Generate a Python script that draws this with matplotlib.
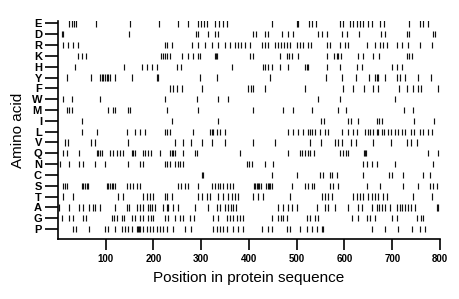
import matplotlib
matplotlib.use('Agg')
import matplotlib.pyplot as plt

# amino acids, top to bottom as in the chart
amino = ['E', 'D', 'R', 'K', 'H', 'Y', 'F', 'W', 'M', 'I',
         'L', 'V', 'Q', 'N', 'C', 'S', 'T', 'A', 'G', 'P']

# positions of each residue in the sequence
pos_E = [24, 29, 33, 37, 79, 150, 211, 251, 272, 293, 299, 305, 312, 328, 337, 345, 354,
         448, 500, 502, 525, 531, 540, 590, 596, 611, 617, 626, 632, 638, 649, 657, 674, 682,
         735, 758, 764, 775]
pos_D = [8, 10, 148, 289, 293, 314, 328, 335, 408, 414, 433, 440, 469, 481, 492, 544, 553,
         563, 595, 605, 630, 676, 685, 731, 735, 785, 789]
pos_R = [10, 20, 31, 43, 224, 228, 238, 281, 293, 307, 322, 335, 349, 360, 371, 377, 384,
         392, 403, 427, 433, 440, 454, 461, 467, 473, 479, 486, 500, 507, 513, 524, 530, 563,
         569, 590, 601, 607, 647, 664, 674, 681, 689, 710, 720, 733, 758, 783]
pos_K = [41, 50, 58, 215, 219, 224, 228, 234, 259, 272, 283, 293, 297, 328, 330, 332, 402,
         408, 465, 479, 484, 490, 503, 563, 578, 584, 586, 592, 628, 638, 659, 672, 731, 735,
         741]
pos_H = [35, 138, 175, 186, 196, 207, 249, 257, 364, 429, 433, 440, 448, 465, 482, 517, 521,
         524, 563, 590, 626, 636, 700, 710, 720]
pos_Y = [18, 70, 87, 92, 94, 98, 102, 105, 109, 119, 155, 207, 209, 297, 333, 444, 561, 595,
         624, 651, 664, 668, 670, 685, 710, 716, 727, 754, 781]
pos_F = [234, 240, 249, 259, 301, 398, 404, 408, 433, 517, 597, 618, 641, 660, 670, 714, 731,
         744, 754, 760, 795]
pos_W = [10, 29, 87, 224, 291, 335, 356, 544, 590, 706]
pos_M = [18, 24, 29, 105, 115, 119, 146, 150, 228, 293, 408, 471, 492, 531, 586, 603, 725, 744]
pos_I = [50, 238, 335, 551, 557, 607, 614, 628, 668, 672, 679, 746, 788]
pos_L = [50, 81, 144, 161, 171, 182, 224, 228, 234, 283, 318, 322, 324, 333, 339, 349, 482,
         492, 502, 513, 524, 528, 532, 539, 549, 560, 566, 595, 607, 618, 626, 643, 649, 653,
         660, 668, 670, 679, 683, 692, 698, 706, 712, 720, 727, 739, 746, 758, 764, 775, 783]
pos_V = [14, 20, 70, 77, 146, 245, 262, 279, 301, 322, 349, 408, 454, 528, 551, 580, 586, 595,
         614, 624, 660, 698, 731, 739, 752]
pos_Q = [10, 18, 45, 81, 83, 87, 92, 109, 115, 123, 130, 136, 155, 157, 161, 178, 182, 188,
         194, 213, 234, 238, 241, 245, 262, 287, 291, 381, 482, 507, 511, 517, 524, 528, 536,
         590, 597, 603, 607, 641, 643, 645, 775, 796]
pos_N = [4, 24, 45, 52, 77, 98, 146, 171, 178, 224, 228, 234, 245, 251, 255, 262, 396, 400,
         406, 433, 450, 638, 647, 657, 668, 706, 785]
pos_C = [301, 303, 448, 500, 549, 555, 569, 574, 585, 638, 694, 700, 723, 764, 779]
pos_S = [10, 14, 18, 50, 52, 56, 60, 62, 102, 105, 109, 113, 115, 119, 144, 150, 157, 165,
         171, 251, 257, 265, 272, 293, 322, 328, 335, 339, 345, 354, 360, 367, 410, 413, 416,
         419, 422, 425, 436, 439, 442, 445, 448, 490, 517, 524, 532, 536, 569, 576, 586, 647,
         674, 723, 754, 779, 785, 794]
pos_T = [10, 31, 125, 136, 178, 186, 192, 199, 224, 228, 238, 293, 301, 312, 318, 335, 345,
         356, 364, 371, 377, 408, 419, 429, 486, 553, 560, 566, 574, 618, 626, 632, 638, 649,
         657, 664, 670, 681, 689, 744, 783]
pos_A = [2, 24, 45, 52, 66, 73, 77, 87, 119, 144, 148, 165, 171, 178, 188, 192, 196, 203,
         220, 228, 230, 240, 251, 287, 314, 333, 339, 349, 356, 362, 367, 373, 461, 471, 482,
         490, 500, 542, 560, 566, 580, 607, 628, 636, 657, 668, 672, 679, 685, 695, 710, 716,
         720, 727, 733, 739, 748, 794, 796]
pos_G = [8, 24, 31, 52, 58, 113, 117, 123, 134, 138, 155, 161, 171, 178, 188, 194, 199, 224,
         230, 245, 255, 262, 276, 284, 324, 335, 354, 360, 367, 375, 381, 388, 448, 461, 467,
         471, 479, 521, 528, 538, 544, 616, 628, 647, 653, 664, 700, 710, 752, 760, 764]
pos_P = [31, 37, 66, 98, 105, 119, 134, 140, 146, 155, 165, 167, 169, 171, 178, 186, 192,
         199, 207, 213, 220, 228, 240, 265, 279, 324, 333, 339, 345, 354, 367, 377, 388, 427,
         440, 448, 479, 486, 507, 521, 532, 542, 553, 555, 657, 685, 712, 741, 758, 769]

positions = [pos_E, pos_D, pos_R, pos_K, pos_H, pos_Y, pos_F, pos_W, pos_M, pos_I,
             pos_L, pos_V, pos_Q, pos_N, pos_C, pos_S, pos_T, pos_A, pos_G, pos_P]

xticks = [100, 200, 300, 400, 500, 600, 700, 800]

plt.rcParams['font.family'] = ['Liberation Sans', 'DejaVu Sans']

fig = plt.figure(figsize=(4.6, 2.99), dpi=100)
ax = fig.add_axes([0.126, 0.2007, 0.8305, 0.728])

n = len(amino)
for i, (aa, xs) in enumerate(zip(amino, positions)):
    y = n - 1 - i
    ax.vlines(xs, y - 0.29, y + 0.29, color='#111111', linewidth=0.85)

ax.set_xlim(0, 800)
ax.set_ylim(-0.92, n - 1 + 0.2)
ax.set_xticks(xticks)
ax.set_xticklabels([str(t) for t in xticks], fontsize=7, fontweight='bold')
ax.set_yticks(range(n))
ax.set_yticklabels(amino[::-1], fontsize=8, fontweight='bold')

ax.tick_params(axis='x', direction='out', length=8, width=1.2, pad=3)
ax.tick_params(axis='y', direction='out', length=9.5, width=1.2, pad=2)

for side in ['top', 'right']:
    ax.spines[side].set_visible(False)
for side in ['left', 'bottom']:
    ax.spines[side].set_linewidth(1.2)

ax.set_xlabel('Position in protein sequence', fontsize=11, labelpad=5)
ax.set_ylabel('Amino acid', fontsize=11, labelpad=5)

fig.savefig('out.png', dpi=100)
